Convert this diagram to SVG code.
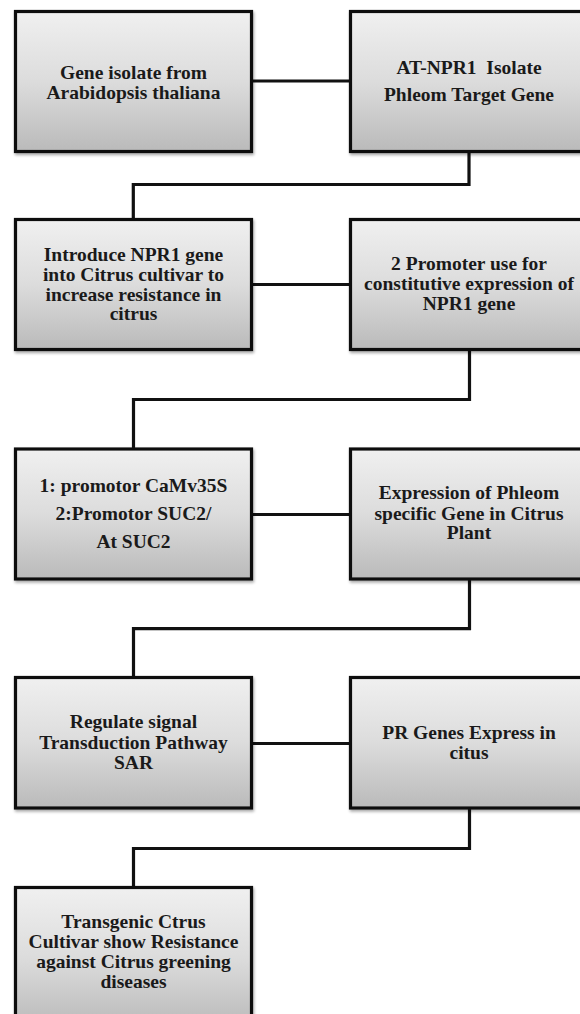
<svg xmlns="http://www.w3.org/2000/svg" width="580" height="1014" viewBox="0 0 580 1014">
<defs>
<linearGradient id="g" x1="0" y1="0" x2="0" y2="1">
<stop offset="0" stop-color="#f0f0f0"/>
<stop offset="0.5" stop-color="#dcdcdc"/>
<stop offset="1" stop-color="#bababa"/>
</linearGradient>
<filter id="sh" x="-5%" y="-5%" width="115%" height="115%">
<feGaussianBlur in="SourceAlpha" stdDeviation="1.5"/>
<feOffset dx="1" dy="2" result="b"/>
<feComponentTransfer><feFuncA type="linear" slope="0.35"/></feComponentTransfer>
<feMerge><feMergeNode/><feMergeNode in="SourceGraphic"/></feMerge>
</filter>
</defs>
<style>
.box{fill:url(#g);stroke:#111;stroke-width:3.2;filter:url(#sh)}
.con{fill:none;stroke:#111;stroke-width:3.2;stroke-linejoin:miter}
text{font-family:"Liberation Serif","Times New Roman",serif;font-weight:bold;font-size:19.5px;fill:#1a1a1a;text-anchor:middle}
</style>
<rect width="580" height="1014" fill="#fff"/>
<g id="connectors">
<path class="con" d="M251.5 81 H350.5"/>
<path class="con" d="M469 151.5 V184.5 H133.3 V219.5"/>
<path class="con" d="M251.5 284.5 H350.5"/>
<path class="con" d="M469.5 349.5 V399.5 H133.5 V449"/>
<path class="con" d="M251.5 514.5 H350.5"/>
<path class="con" d="M469.5 579 V628.7 H133.5 V677.5"/>
<path class="con" d="M251.5 743.5 H350.5"/>
<path class="con" d="M469.5 808 V848.5 H133.5 V887.5"/>
</g>
<g id="n1">
<rect class="box" x="15.5" y="11.5" width="236" height="140"/>
<text x="133.5" y="79">Gene isolate from</text>
<text x="133.5" y="99">Arabidopsis thaliana</text>
</g>
<g id="n2">
<rect class="box" x="350.5" y="11.5" width="236" height="140"/>
<text x="469" y="74" xml:space="preserve">AT-NPR1  Isolate</text>
<text x="469" y="101">Phleom Target Gene</text>
</g>
<g id="n3">
<rect class="box" x="15.5" y="219.5" width="236" height="130"/>
<text x="133.5" y="261">Introduce NPR1 gene</text>
<text x="133.5" y="281">into Citrus cultivar to</text>
<text x="133.5" y="301">increase resistance in</text>
<text x="133.5" y="320">citrus</text>
</g>
<g id="n4">
<rect class="box" x="350.5" y="219.5" width="236" height="130"/>
<text x="469" y="270">2 Promoter use for</text>
<text x="469" y="290">constitutive expression of</text>
<text x="469" y="310">NPR1 gene</text>
</g>
<g id="n5">
<rect class="box" x="15.5" y="449" width="236" height="130"/>
<text x="133.5" y="492">1: promotor CaMv35S</text>
<text x="133.5" y="520">2:Promotor SUC2/</text>
<text x="133.5" y="548">At SUC2</text>
</g>
<g id="n6">
<rect class="box" x="350.5" y="449" width="236" height="130"/>
<text x="469" y="499">Expression of Phleom</text>
<text x="469" y="520">specific Gene in Citrus</text>
<text x="469" y="539">Plant</text>
</g>
<g id="n7">
<rect class="box" x="15.5" y="677.5" width="236" height="130.5"/>
<text x="133.5" y="728">Regulate signal</text>
<text x="133.5" y="749">Transduction Pathway</text>
<text x="133.5" y="769">SAR</text>
</g>
<g id="n8">
<rect class="box" x="350.5" y="677.5" width="236" height="130.5"/>
<text x="469" y="739">PR Genes Express in</text>
<text x="469" y="759">citus</text>
</g>
<g id="n9">
<rect class="box" x="15.5" y="887.5" width="236" height="140"/>
<text x="133.5" y="928">Transgenic Ctrus</text>
<text x="133.5" y="948">Cultivar show Resistance</text>
<text x="133.5" y="968">against Citrus greening</text>
<text x="133.5" y="988">diseases</text>
</g>
</svg>
